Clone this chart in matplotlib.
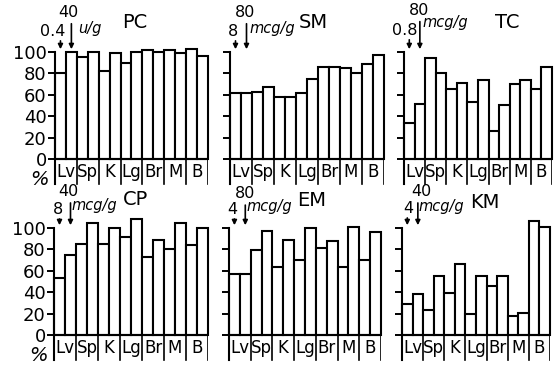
import matplotlib.pyplot as plt

plt.rcParams['font.family'] = ['DejaVu Sans']

tissues = ["Lv", "Sp", "K", "Lg", "Br", "M", "B"]

# relative values (%) for low dose / high dose, per tissue
pc_low = [80, 95, 82, 90, 102, 102, 103]
pc_high = [100, 100, 99, 100, 100, 99, 96]

sm_low = [62, 63, 58, 62, 86, 85, 89]
sm_high = [62, 67, 58, 75, 86, 80, 97]

tc_low = [34, 94, 65, 53, 26, 70, 65]
tc_high = [51, 80, 71, 74, 50, 74, 86]

cp_low = [53, 85, 85, 92, 73, 80, 84]
cp_high = [75, 105, 100, 108, 89, 105, 100]

em_low = [57, 79, 64, 70, 81, 64, 70]
em_high = [57, 97, 89, 100, 88, 101, 96]

km_low = [29, 23, 39, 20, 46, 18, 107]
km_high = [38, 55, 66, 55, 55, 21, 101]

W, H = 558, 368
fig = plt.figure(figsize=(W / 100, H / 100), dpi=100)

YMIN, YMAX = -25, 140
PXU = 1.07  # pixels per percent unit


def make_ax(x0, x1, base):
    top = base - PXU * YMAX
    bot = base - PXU * YMIN
    ax = fig.add_axes([x0 / W, 1 - bot / H, (x1 - x0) / W, (bot - top) / H])
    ax.set_xlim(0, 14)
    ax.set_ylim(YMIN, YMAX)
    for s in ["top", "right", "bottom"]:
        ax.spines[s].set_visible(False)
    ax.spines["left"].set_bounds(-23, 100)
    ax.spines["left"].set_linewidth(1.5)
    ax.set_xticks([])
    ax.set_yticks(range(0, 101, 20))
    ax.tick_params(axis="y", length=5, width=1.4, labelsize=13, pad=1)
    ax.patch.set_alpha(0)
    return ax


def panel(ax, title, low, high, d1, d2, unit, pos, labels=False):
    xs = list(range(14))
    vals = []
    for a, b in zip(low, high):
        vals += [a, b]
    ax.bar(xs, vals, width=1, align="edge", facecolor="white",
           edgecolor="black", linewidth=1.5, clip_on=False)
    ax.plot([0, 14], [0, 0], color="black", lw=1.5)
    for g in range(1, 8):
        ax.plot([2 * g, 2 * g], [0, -23], color="black", lw=1.2)
    for i, t in enumerate(tissues):
        ax.text(2 * i + 1, -12.5, t, ha="center", va="center", fontsize=12)
    if labels:
        ax.set_yticklabels([str(v) for v in range(0, 101, 20)])
        ax.text(-1.45, -19, "%", ha="center", va="center", fontsize=14,
                fontstyle="italic")
    else:
        ax.set_yticklabels([])
    (t1x, t1y), (t2x, t2y), (ux, uy), (tx, ty) = pos
    ax.text(t1x, t1y, d1, ha="center", va="center", fontsize=11.5)
    ax.text(t2x, t2y, d2, ha="center", va="center", fontsize=11.5)
    ax.text(ux, uy, unit, ha="center", va="center", fontsize=10.5,
            fontstyle="italic")
    ax.text(tx, ty, title, ha="center", va="center", fontsize=14)
    for bx, y0 in [(0.5, t1y - 6), (1.5, t2y - 8)]:
        ax.annotate("", xy=(bx, 100), xytext=(bx, y0),
                    arrowprops=dict(arrowstyle="-|>", color="black",
                                    lw=1.2, mutation_scale=7))


ax1 = make_ax(55, 208, 159)
panel(ax1, "PC", pc_low, pc_high, "0.4", "40", "u/g",
      [(-0.25, 119), (1.2, 137), (3.2, 122), (7.3, 128)], labels=True)

ax2 = make_ax(230, 384, 159)
panel(ax2, "SM", sm_low, sm_high, "8", "80", "mcg/g",
      [(0.25, 119), (1.35, 137), (3.8, 122), (7.6, 128)])

ax3 = make_ax(404, 552, 159)
panel(ax3, "TC", tc_low, tc_high, "0.8", "80", "mcg/g",
      [(0.1, 120), (1.4, 139), (3.9, 128), (9.8, 128)])

ax4 = make_ax(54, 208, 335)
panel(ax4, "CP", cp_low, cp_high, "8", "40", "mcg/g",
      [(0.35, 117), (1.3, 134), (3.7, 121), (7.4, 127)], labels=True)

ax5 = make_ax(229, 381, 335)
panel(ax5, "EM", em_low, em_high, "4", "80", "mcg/g",
      [(0.3, 117), (1.5, 132), (3.7, 120), (7.6, 126)])

ax6 = make_ax(402, 550, 335)
panel(ax6, "KM", km_low, km_high, "4", "40", "mcg/g",
      [(0.55, 118), (1.8, 134), (3.7, 120), (7.8, 124)])

fig.savefig("out.png", dpi=100)
